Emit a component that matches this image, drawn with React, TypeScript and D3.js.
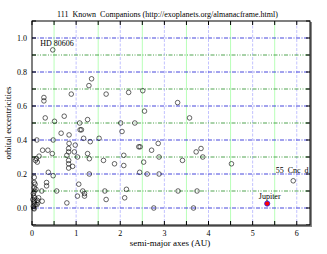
import { useMemo } from 'react'
import * as d3 from 'd3'

// semi-major axis (AU)
const axes: number[] = [
  0.47, 1.35, 1.29, 0.89, 1.68, 2.19, 2.51, 0.27, 0.27, 3.3,
  2.55, 0.3, 0.73, 0.51, 3.57, 1.08, 1.26, 2.01, 2.33, 0.66,
  0.84, 1.09, 1.12, 2.04, 0.11, 0.48, 1.17, 1.52, 1.32, 0.84,
  0.98, 2.42, 2.45, 2.86, 2.71, 3.83, 3.72, 3.87, 2.08, 2.88,
  3.41, 1.87, 2.08, 2.53, 2.44, 2.61, 2.88, 2.14, 2.1, 3.31,
  3.74, 2.76, 3.66, 4.52, 5.92, 0.24, 0.36, 0.46, 0.83, 0.83,
  0.96, 0.79, 1.03, 1.26, 1.3, 1.62, 0.16, 0.08, 0.12, 0.1,
  0.83, 0.83, 0.92, 0.83, 0.37, 0.48, 1.3, 0.05, 0.05, 0.07,
  0.33, 0.33, 0.05, 0.22, 0.56, 1.06, 1.15, 1.19, 1.19, 1.03,
  1.65, 1.68, 0.79, 0.03, 0.06, 0.02, 0.12, 0.23, 0.05, 0.11,
  0.03, 0.05, 0.04, 0.13, 0.05, 0.07, 0.09, 0.06, 0.15, 0.04,
]

// orbital eccentricity, same order
const eccs: number[] = [
  0.93, 0.76, 0.72, 0.67, 0.67, 0.68, 0.69, 0.65, 0.63, 0.62,
  0.57, 0.53, 0.54, 0.51, 0.53, 0.5, 0.52, 0.5, 0.5, 0.44,
  0.43, 0.46, 0.46, 0.45, 0.4, 0.4, 0.41, 0.41, 0.39, 0.38,
  0.37, 0.36, 0.36, 0.38, 0.34, 0.35, 0.33, 0.3, 0.31, 0.3,
  0.28, 0.26, 0.25, 0.27, 0.21, 0.2, 0.2, 0.11, 0.06, 0.1,
  0.1, 0.0, 0.0, 0.26, 0.16, 0.34, 0.34, 0.32, 0.35, 0.33,
  0.33, 0.31, 0.3, 0.32, 0.29, 0.28, 0.305, 0.28, 0.27, 0.29,
  0.28, 0.26, 0.245, 0.235, 0.21, 0.19, 0.2, 0.18, 0.15, 0.14,
  0.15, 0.13, 0.12, 0.1, 0.1, 0.14, 0.1, 0.085, 0.07, 0.07,
  0.1, 0.05, 0.03, 0.085, 0.06, 0.05, 0.045, 0.04, 0.03, 0.02,
  0.01, -0.005, 0.0, 0.03, 0.04, 0.02, 0.11, 0.1, 0.06, 0.07,
]

const jupiter = { a: 5.33, e: 0.026 }
const hd80606 = { a: 0.47, e: 0.93 }
const cnc55d = { a: 5.92, e: 0.16 }

const xTicksMajor = [0, 1, 2, 3, 4, 5, 6]
const xTicksHalf = [0.5, 1.5, 2.5, 3.5, 4.5, 5.5]
const yTicksMajor = [0, 0.2, 0.4, 0.6, 0.8, 1.0]
const yTicksMinor = [0.1, 0.3, 0.5, 0.7, 0.9]
const yTicksOuter = [-0.1, 1.1]

const W = 327
const H = 254
const serif = '"Liberation Serif", "DejaVu Serif", serif'

export default function App() {
  const x = useMemo(() => d3.scaleLinear().domain([0, 6.3]).range([32, 310]), [])
  const y = useMemo(() => d3.scaleLinear().domain([-0.1, 1.1]).range([225, 21]), [])
  const [x0, x1] = x.range()
  const [y0, y1] = y.range()

  const fmtY = d3.format('.1f')
  const allXTicks = [...xTicksMajor, ...xTicksHalf]
  const allYTicks = [...yTicksMajor, ...yTicksMinor]

  return (
    <svg width={W} height={H} style={{ position: 'absolute', left: 0, top: 0, background: '#fff' }}
      fontFamily={serif}>
      {/* vertical grid */}
      {xTicksHalf.map((t) => (
        <line key={'vh' + t} x1={x(t)} x2={x(t)} y1={y1} y2={y0} stroke="#b8ffb8" strokeWidth={1} />
      ))}
      {xTicksMajor.filter((t) => t > 0).map((t) => (
        <line key={'vm' + t} x1={x(t)} x2={x(t)} y1={y1} y2={y0} stroke="#b4b4ff"
          strokeWidth={0.8} strokeDasharray="3,1.5" />
      ))}
      {/* horizontal grid */}
      {yTicksMinor.map((t) => (
        <line key={'hm' + t} x1={x0} x2={x1} y1={y(t)} y2={y(t)} stroke="#3c9a3c"
          strokeWidth={0.9} strokeDasharray="4,1.5,1,1.5,1,1.5" />
      ))}
      {yTicksMajor.map((t) => (
        <line key={'hM' + t} x1={x0} x2={x1} y1={y(t)} y2={y(t)} stroke="#3232d8"
          strokeWidth={0.9} strokeDasharray="4,1.5,1,1.5" />
      ))}

      {/* ticks */}
      {allXTicks.map((t) => (
        <g key={'xt' + t}>
          <line x1={x(t)} x2={x(t)} y1={y1} y2={y1 + 4} stroke="#000" />
          <line x1={x(t)} x2={x(t)} y1={y0} y2={y0 - 4} stroke="#000" />
        </g>
      ))}
      {[...allYTicks, ...yTicksOuter].map((t) => (
        <g key={'yt' + t}>
          <line x1={x0} x2={x0 + 4} y1={y(t)} y2={y(t)} stroke="#000" />
          <line x1={x1} x2={x1 - 4} y1={y(t)} y2={y(t)} stroke="#000" />
        </g>
      ))}

      {/* frame with a grey shadow on right and bottom */}
      <line x1={x1 + 1} x2={x1 + 1} y1={y1 + 1} y2={y0 + 2} stroke="#888" strokeWidth={2} />
      <line x1={x0 + 1} x2={x1 + 2} y1={y0 + 1} y2={y0 + 1} stroke="#888" strokeWidth={2} />
      <rect x={x0} y={y1} width={x1 - x0} height={y0 - y1} fill="none" stroke="#000" strokeWidth={1} />

      {/* tick labels */}
      {xTicksMajor.map((t) => (
        <text key={'xl' + t} x={x(t)} y={236} textAnchor="middle" fontSize={8}>{t}</text>
      ))}
      {yTicksMajor.map((t) => (
        <text key={'yl' + t} x={27} y={y(t) + 2.8} textAnchor="end" fontSize={8}>{fmtY(t)}</text>
      ))}

      {/* points */}
      {axes.map((a, i) => (
        <circle key={'p' + i} cx={x(a)} cy={y(eccs[i])} r={2.3} fill="none" stroke="#000" strokeWidth={0.6} />
      ))}
      <circle cx={x(jupiter.a)} cy={y(jupiter.e)} r={2.6} fill="#ff0000" stroke="#2020ff" strokeWidth={0.8} />

      {/* annotations */}
      <text x={x(hd80606.a) - 12.5} y={y(hd80606.e) - 4} fontSize={8} style={{ whiteSpace: 'pre' }}>HD 80606</text>
      <text x={x(cnc55d.a) - 17.5} y={y(cnc55d.e) - 8} fontSize={8} style={{ whiteSpace: 'pre' }}>55  Cnc  d</text>
      <text x={x(jupiter.a) + 2.5} y={y(jupiter.e) - 5} fontSize={8} textAnchor="middle">Jupiter</text>

      {/* titles */}
      <text x={167.5} y={16.5} textAnchor="middle" fontSize={8} style={{ whiteSpace: 'pre' }}>
        111  Known  Companions (http://exoplanets.org/almanacframe.html)
      </text>
      <text x={170} y={246} textAnchor="middle" fontSize={9}>semi-major axes (AU)</text>
      <text transform={`translate(11,123) rotate(-90)`} textAnchor="middle" fontSize={9}>orbital eccentricities</text>
    </svg>
  )
}
